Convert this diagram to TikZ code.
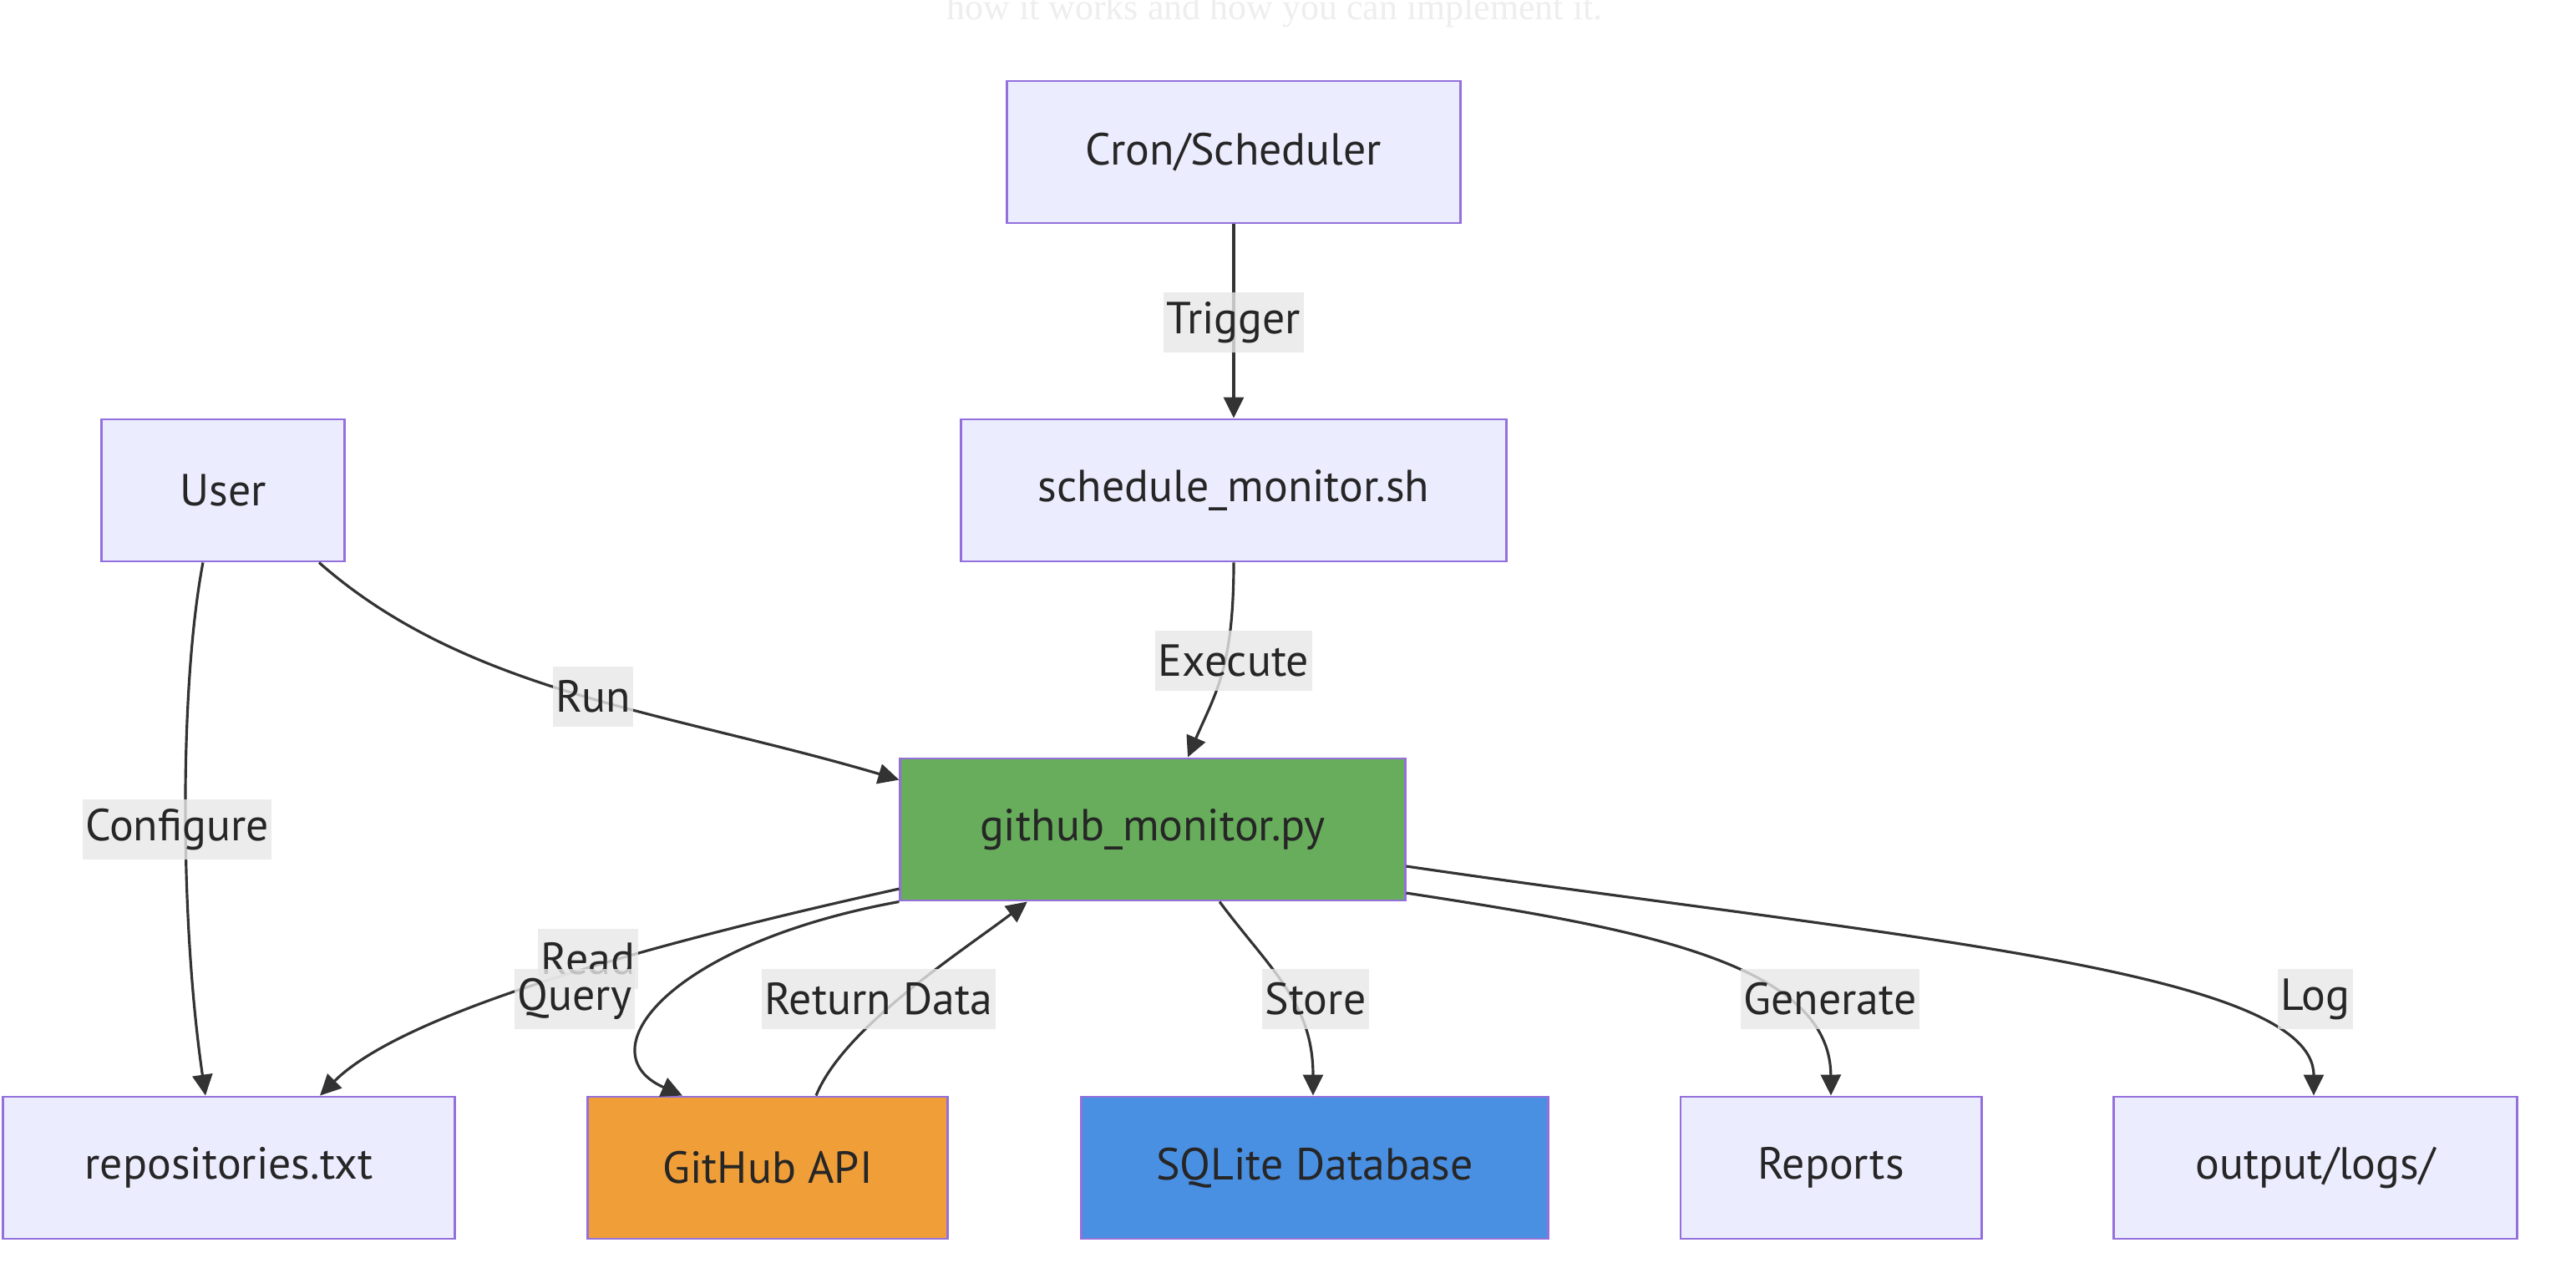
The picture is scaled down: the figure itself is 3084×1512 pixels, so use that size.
\documentclass[tikz,border=0pt]{standalone}
\usepackage{fontspec}
\setmainfont{PT Sans}
\newfontfamily\serifface{Liberation Serif}
\usetikzlibrary{arrows.meta}
\definecolor{boxfill}{HTML}{ECECFF}
\definecolor{boxline}{HTML}{9370DB}
\definecolor{greenfill}{HTML}{67AD5B}
\definecolor{orangefill}{HTML}{F09E38}
\definecolor{bluefill}{HTML}{4A90E2}
\definecolor{lblfill}{HTML}{E8E8E8}
\definecolor{edgecol}{HTML}{333333}
\definecolor{txt}{HTML}{262626}
\definecolor{faint}{HTML}{EEEEEE}
\begin{document}
\begin{tikzpicture}[x=0.01cm,y=-0.01cm,
  box/.style={draw=boxline, line width=0.8pt, fill=boxfill, minimum height=1.7cm, inner sep=0pt, text=txt, font=\fontsize{15.3}{18}\selectfont},
  arr/.style={draw=edgecol, line width=0.9pt, -{Triangle[length=0.25cm,width=0.24cm]}},
  lbl/.style={fill=lblfill, fill opacity=0.8, text opacity=1, text=txt, inner xsep=1pt, inner ysep=0pt, minimum height=0.72cm, font=\fontsize{15.3}{18}\selectfont},
]
\useasboundingbox (0,0) rectangle (3084,1512);
\fill[white] (0,0) rectangle (3084,1512);

\node[anchor=base, text=faint, font=\serifface\fontsize{12.5}{14}\selectfont] (intro) at (1526,24) {how it works and how you can implement it.};

% nodes
\node[box, minimum width=5.43cm] (cron) at (1477,182) {Cron/Scheduler};
\node[box, minimum width=6.53cm] (sched) at (1477,587) {schedule\_monitor.sh};
\node[box, minimum width=2.91cm] (user) at (267,587) {User};
\node[box, minimum width=6.04cm, fill=greenfill] (gh) at (1380,993) {github\_monitor.py};
\node[box, minimum width=5.41cm] (repo) at (274,1398) {repositories.txt};
\node[box, minimum width=4.31cm, fill=orangefill] (api) at (919,1398) {GitHub API};
\node[box, minimum width=5.59cm, fill=bluefill] (sql) at (1574,1398) {SQLite Database};
\node[box, minimum width=3.60cm] (rep) at (2192,1398) {Reports};
\node[box, minimum width=4.82cm] (logs) at (2772,1398) {output/logs/};

% edges
\draw[arr] (cron) -- (sched);
\draw[arr] (sched.south) .. controls (1477,800) and (1455,830) .. ([xshift=0.42cm]gh.north);
\draw[arr] ([xshift=-0.32cm]user.south east) .. controls (560,830) and (800,852) .. ([yshift=-0.27cm]gh.north west);
\draw[arr] ([xshift=-0.24cm]user.south) .. controls (215,820) and (215,1100) .. ([xshift=-0.28cm]repo.north);
\draw[arr] ([yshift=-0.71cm]gh.west) .. controls (778,1130) and (483,1212) .. ([xshift=1.09cm]repo.north);
\draw[arr] (gh.south west) .. controls (800,1130) and (700,1260) .. ([xshift=-1.02cm]api.north);
\draw[arr] ([xshift=0.58cm]api.north) .. controls (1010,1230) and (1150,1140) .. ([xshift=-1.5cm]gh.south);
\draw[arr] ([xshift=0.8cm]gh.south) .. controls (1520,1160) and (1572,1200) .. ([xshift=-0.02cm]sql.north);
\draw[arr] ([yshift=-0.76cm]gh.east) .. controls (1950,1110) and (2191,1150) .. (rep.north);
\draw[arr] ([yshift=-0.44cm]gh.east) .. controls (2250,1120) and (2770,1160) .. ([xshift=-0.02cm]logs.north);

% labels
\node[lbl] (lTrigger) at (1477,386) {Trigger};
\node[lbl] (lExecute) at (1477,791) {Execute};
\node[lbl] (lRun) at (710,834) {Run};
\node[lbl] (lConfigure) at (212,993) {Configure};
\node[lbl] (lRead) at (704,1148) {Read};
\node[lbl] (lQuery) at (688,1196) {Query};
\node[lbl] (lReturn) at (1052,1196) {Return Data};
\node[lbl] (lStore) at (1575,1196) {Store};
\node[lbl] (lGenerate) at (2191,1196) {Generate};
\node[lbl] (lLog) at (2772,1196) {Log};
\end{tikzpicture}
\end{document}
